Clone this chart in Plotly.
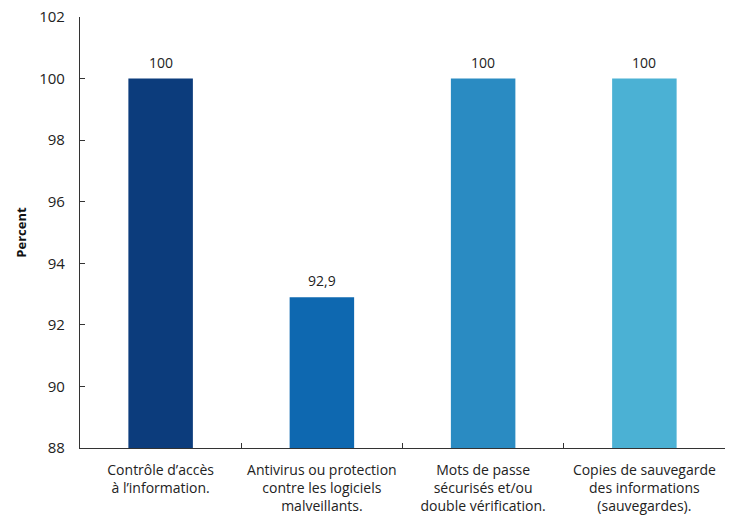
import plotly.graph_objects as go

categories = [
    "Contrôle d’accès<br>à l’information.",
    "Antivirus ou protection<br>contre les logiciels<br>malveillants.",
    "Mots de passe<br>sécurisés et/ou<br>double vérification.",
    "Copies de sauvegarde<br>des informations<br>(sauvegardes).",
]
values = [100, 92.9, 100, 100]
bar_colors = ["#0c3c7c", "#0e68b0", "#2a8bc2", "#4bb1d4"]
y_ticks = [88, 90, 92, 94, 96, 98, 100, 102]

labels = [f"{v:g}".replace(".", ",") for v in values]

font_family = "Open Sans, Liberation Sans, sans-serif"

fig = go.Figure(
    go.Bar(
        x=categories,
        y=values,
        marker=dict(color=bar_colors, line=dict(width=0)),
        width=0.4,
    )
)

# value labels above each bar
for cat, v, lab in zip(categories, values, labels):
    fig.add_annotation(
        x=cat,
        y=v,
        text=lab,
        showarrow=False,
        yanchor="bottom",
        yshift=5,
        font=dict(size=14, color="#222222", family=font_family),
    )

fig.update_layout(
    width=732,
    height=522,
    margin=dict(l=80, r=7, t=17, b=74),
    paper_bgcolor="white",
    plot_bgcolor="white",
    showlegend=False,
    font=dict(family=font_family, size=14, color="#222222"),
)

fig.update_xaxes(
    showline=True,
    linecolor="#333333",
    linewidth=1.2,
    ticks="inside",
    ticklen=5,
    tickcolor="#333333",
    tickson="boundaries",
    tickangle=0,
    automargin=False,
    tickfont=dict(size=14, color="#222222"),
    ticklabelstandoff=9,
    showgrid=False,
)

fig.update_yaxes(
    range=[88, 102],
    tickvals=y_ticks,
    showline=True,
    linecolor="#333333",
    linewidth=1.2,
    ticks="inside",
    ticklen=5,
    tickcolor="#333333",
    showgrid=False,
    zeroline=False,
    automargin=False,
    tickfont=dict(size=15, color="#222222"),
    ticklabelstandoff=11,
    title=dict(text="<b>Percent</b>", font=dict(size=13, color="#111111"), standoff=9),
)

fig.write_html("out.html")
